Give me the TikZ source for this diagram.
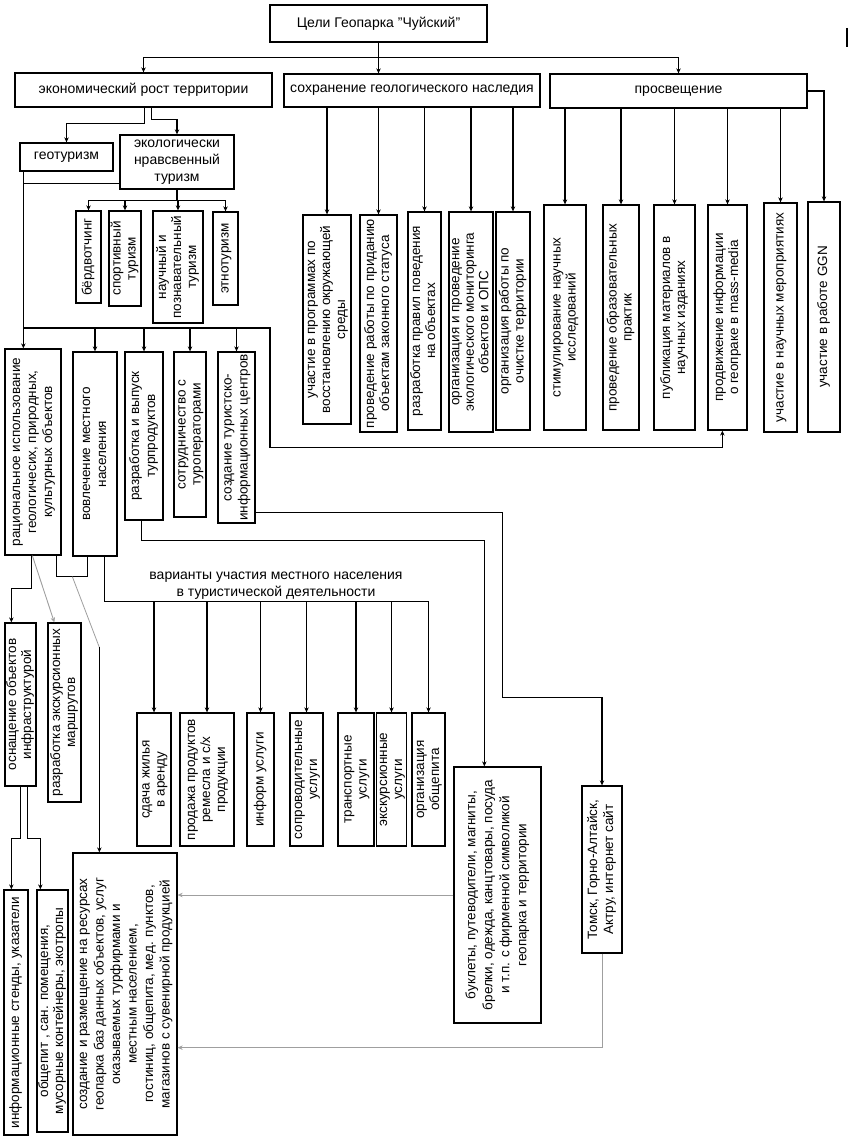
\documentclass[tikz,border=0pt]{standalone}
\usepackage{fontspec}
\setmainfont{Liberation Sans}
\usepackage{graphicx}
\usetikzlibrary{arrows.meta,calc}
\newcommand\mybox[7][]{\node[box,#1,minimum width={(#5-#3)*1pt},minimum height={(#6-#4)*1pt}] (#2) at ({(#3+#5)/2},{(#4+#6)/2}) {#7};}
\newcommand\vtext[1]{\rotatebox{90}{\fontsize{13.5}{\baselineskip}\selectfont\begin{tabular}{@{}c@{}}#1\end{tabular}}}
\begin{document}
\begin{tikzpicture}[x=1pt,y=-1pt,
  box/.style={draw,line width=1.3pt,inner sep=0pt,align=center,font=\fontsize{14}{15}\selectfont},
  lbl/.style={inner sep=0pt,align=center,font=\fontsize{14}{17}\selectfont},
  arr/.style={line width=1.1pt,-{Stealth[length=5pt,width=4.5pt]}},
  ln/.style={line width=1.1pt},
  garr/.style={line width=0.9pt,draw=gray!75,-{Stealth[length=5pt,width=4.5pt]}},
  gln/.style={line width=0.8pt,draw=gray!75}]
\useasboundingbox[fill=white] (0,0) rectangle (850,1140);
% top level
\mybox{title}{270}{5}{487}{42}{Цели Геопарка "Чуйский"}
\mybox{econ}{15}{73}{272}{107}{экономический рост территории}
\mybox{sokhr}{284}{74}{540}{107}{сохранение геологического наследия}
\mybox{prosv}{550}{74}{807}{108}{просвещение}
\mybox{geotur}{20}{143}{113}{171}{геотуризм}
\mybox[font=\fontsize{14}{17}\selectfont]{ekol}{120}{135}{234}{189}{экологически\\нравсвенный\\туризм}
\mybox{bird}{76}{211}{101}{303}{\vtext{бёрдвотчинг}}
\mybox{sport}{109}{211}{141}{306}{\vtext{спортивный\\туризм}}
\mybox{nauch}{153}{211}{203}{323}{\vtext{научный и\\познавательный\\туризм}}
\mybox{etno}{213}{212}{238}{305}{\vtext{этнотуризм}}
% heritage
\mybox{s1}{303}{215}{351}{424}{\vtext{участие в программах по\\восстановлению окружающей\\среды}}
\mybox{s2}{360}{215}{397}{432}{\vtext{проведение работы по приданию\\объектам законного статуса}}
\mybox{s3}{408}{212}{441}{430}{\vtext{разработка правил поведения\\на объектах}}
\mybox[font=\fontsize{14}{14.5}\selectfont]{s4}{449}{212}{493}{432}{\vtext{организация и проведение\\экологического мониторинга\\объектов и ОПС}}
\mybox{s5}{496}{212}{530}{430}{\vtext{организация работы по\\очистке территории}}
% education
\mybox{p1}{544}{205}{586}{430}{\vtext{стимулирование научных\\исследований}}
\mybox{p2}{603}{205}{639}{430}{\vtext{проведение образовательных\\практик}}
\mybox{p3}{654}{205}{695}{430}{\vtext{публикация материалов в\\научных изданиях}}
\mybox{p4}{708}{205}{747}{430}{\vtext{продвижение информации\\о геопраке в mass-media}}
\mybox{p5}{764}{203}{797}{432}{\vtext{участие в научных мероприятиях}}
\mybox{p6}{808}{202}{840}{432}{\vtext{участие в работе GGN}}
% middle
\mybox[font=\fontsize{14}{16}\selectfont]{rac}{5}{349}{61}{555}{\vtext{рациональное использование\\геологичесих, природных,\\культурных объектов}}
\mybox[font=\fontsize{14}{16}\selectfont]{vovl}{73}{352}{117}{556}{\vtext{вовлечение местного\\населения}}
\mybox[font=\fontsize{14}{16}\selectfont]{razr}{125}{352}{163}{520}{\vtext{разработка и выпуск\\турпродуктов}}
\mybox{sotr}{174}{352}{206}{517}{\vtext{сотрудничество с\\туроператорами}}
\mybox[font=\fontsize{14}{16}\selectfont]{tic}{218}{352}{255}{523}{\vtext{создание туристско-\\информационных центров}}
% bottom left
\mybox{osn}{5}{623}{36}{786}{\vtext{оснащение объектов\\инфраструктурой}}
\mybox{ekm}{48}{623}{81}{802}{\vtext{разработка экскурсионных\\маршрутов}}
\mybox{infs}{4}{890}{28}{1135}{\vtext{информационные стенды, указатели}}
\mybox{obsh}{37}{890}{68}{1132}{\vtext{общепит , сан. помещения,\\мусорные контейнеры, экотропы}}
\mybox[font=\fontsize{14}{16.5}\selectfont]{sozdr}{73}{853}{177}{1135}{\vtext{создание и размещение на ресурсах\\геопарка баз данных объектов, услуг\\оказываемых турфирмами и\\местным населением,\\гостиниц, общепита, мед. пунктов,\\магазинов с сувенирной продукцией}}
% variants
\node[lbl] (varl) at (276,586) {варианты участия местного населения\\в туристической деятельности};
\mybox{v1}{137}{713}{171}{846}{\vtext{сдача жилья\\в аренду}}
\mybox{v2}{180}{713}{234}{846}{\vtext{продажа продуктов\\ремесла и с/х\\продукции}}
\mybox{v3}{247}{713}{274}{846}{\vtext{информ услуги}}
\mybox{v4}{290}{713}{323}{846}{\vtext{сопроводительные\\услуги}}
\mybox{v5}{338}{713}{374}{846}{\vtext{транспортные\\услуги}}
\mybox{v6}{377}{713}{406}{846}{\vtext{экскурсионные\\услуги}}
\mybox{v7}{412}{713}{445}{846}{\vtext{организация\\общепита}}
\mybox[font=\fontsize{14}{17}\selectfont]{bukl}{454}{767}{541}{1023}{\vtext{буклеты, путеводители, магниты,\\брелки, одежда, канцтовары, посуда\\и т.п. с фирменной символикой\\геопарка и территории}}
\mybox[font=\fontsize{14}{16}\selectfont]{tomsk}{582}{786}{622}{953}{\vtext{Томск, Горно-Алтайск,\\Актру, интернет сайт}}
% connectors: top
\draw[arr] (title.south) -- ++(0,15) -| (econ.north);
\draw[arr] (title.south) -- ++(0,15) -| (prosv.north);
\draw[arr] (title.south) -- (title.south |- sokhr.north);
\draw[arr] ($(econ.south west)+(130,0)$) |- ($(geotur.north)+(0,-19)$) -- (geotur.north);
\draw[arr] ($(econ.south west)+(137,0)$) |- ($(ekol.north)+(0,-15)$) -- (ekol.north);
\foreach \n in {bird,sport,nauch,etno} \draw[arr] (ekol.south) -- ++(0,11) -| (\n.north);
\foreach \n in {s1,s2,s3,s4,s5} \draw[arr] (\n.north |- sokhr.south) -- (\n.north);
\foreach \n in {p1,p2,p3,p4,p5} \draw[arr] (\n.north |- prosv.south) -- (\n.north);
\draw[arr] (prosv.east) -| (p6.north);
% left trunk
\draw[ln] ($(ekol.south west)+(0,-6)$) -| ($(geotur.south west)+(4,0)$);
\draw[arr] ($(geotur.south west)+(4,0)$) -- ($(rac.north west)+(19,0)$);
\foreach \n in {vovl,razr,sotr,tic} \draw[arr] ($(geotur.south west)+(4,0)$) |- ($(\n.north)+(0,-24)$) -- (\n.north);
\draw[arr] ($(geotur.south west)+(4,0)$) |- (270,328) |- ($(p4.south west)+(15,17)$) -- ($(p4.south west)+(15,0)$);
\draw[arr] ($(tic.south east)+(0,-11)$) -- ++(247,0) -- ++(0,185) -| (tomsk.north);
\draw[arr] ($(razr.south west)+(17,0)$) -- ++(0,20) -| ($(bukl.north west)+(31,0)$);
% lower left
\draw[arr] ($(rac.south west)+(27,0)$) -- ++(0,33) -| ($(osn.north west)+(7,0)$);
\draw[garr] ($(rac.south west)+(28,0)$) -- ($(ekm.north west)+(7,0)$);
\draw[ln] ($(rac.south west)+(52,0)$) -- ++(0,21) -| ($(vovl.south west)+(15,0)$);
\draw[gln] ($(rac.south west)+(68,21)$) -- ($(sozdr.north west)+(27,-205)$);
\draw[arr] ($(sozdr.north west)+(27,-205)$) -- ($(sozdr.north west)+(27,0)$);
\foreach \n in {v1,v2,v3,v4,v5,v6,v7} \draw[arr] ($(vovl.south west)+(32,0)$) -- ++(0,45) -| (\n.north);
\draw[arr] ($(osn.south west)+(16,0)$) -- ++(0,52) -| ($(infs.north west)+(8,0)$);
\draw[arr] ($(osn.south west)+(23,0)$) -- ++(0,52) -| ($(obsh.north west)+(4,0)$);
\draw[garr] (bukl.west) -- (bukl.west -| sozdr.east);
\draw[garr] (tomsk.south) |- ($(sozdr.south east)+(0,-88)$);
\draw[line width=2pt] (847,28) -- (847,47);
\end{tikzpicture}
\end{document}
